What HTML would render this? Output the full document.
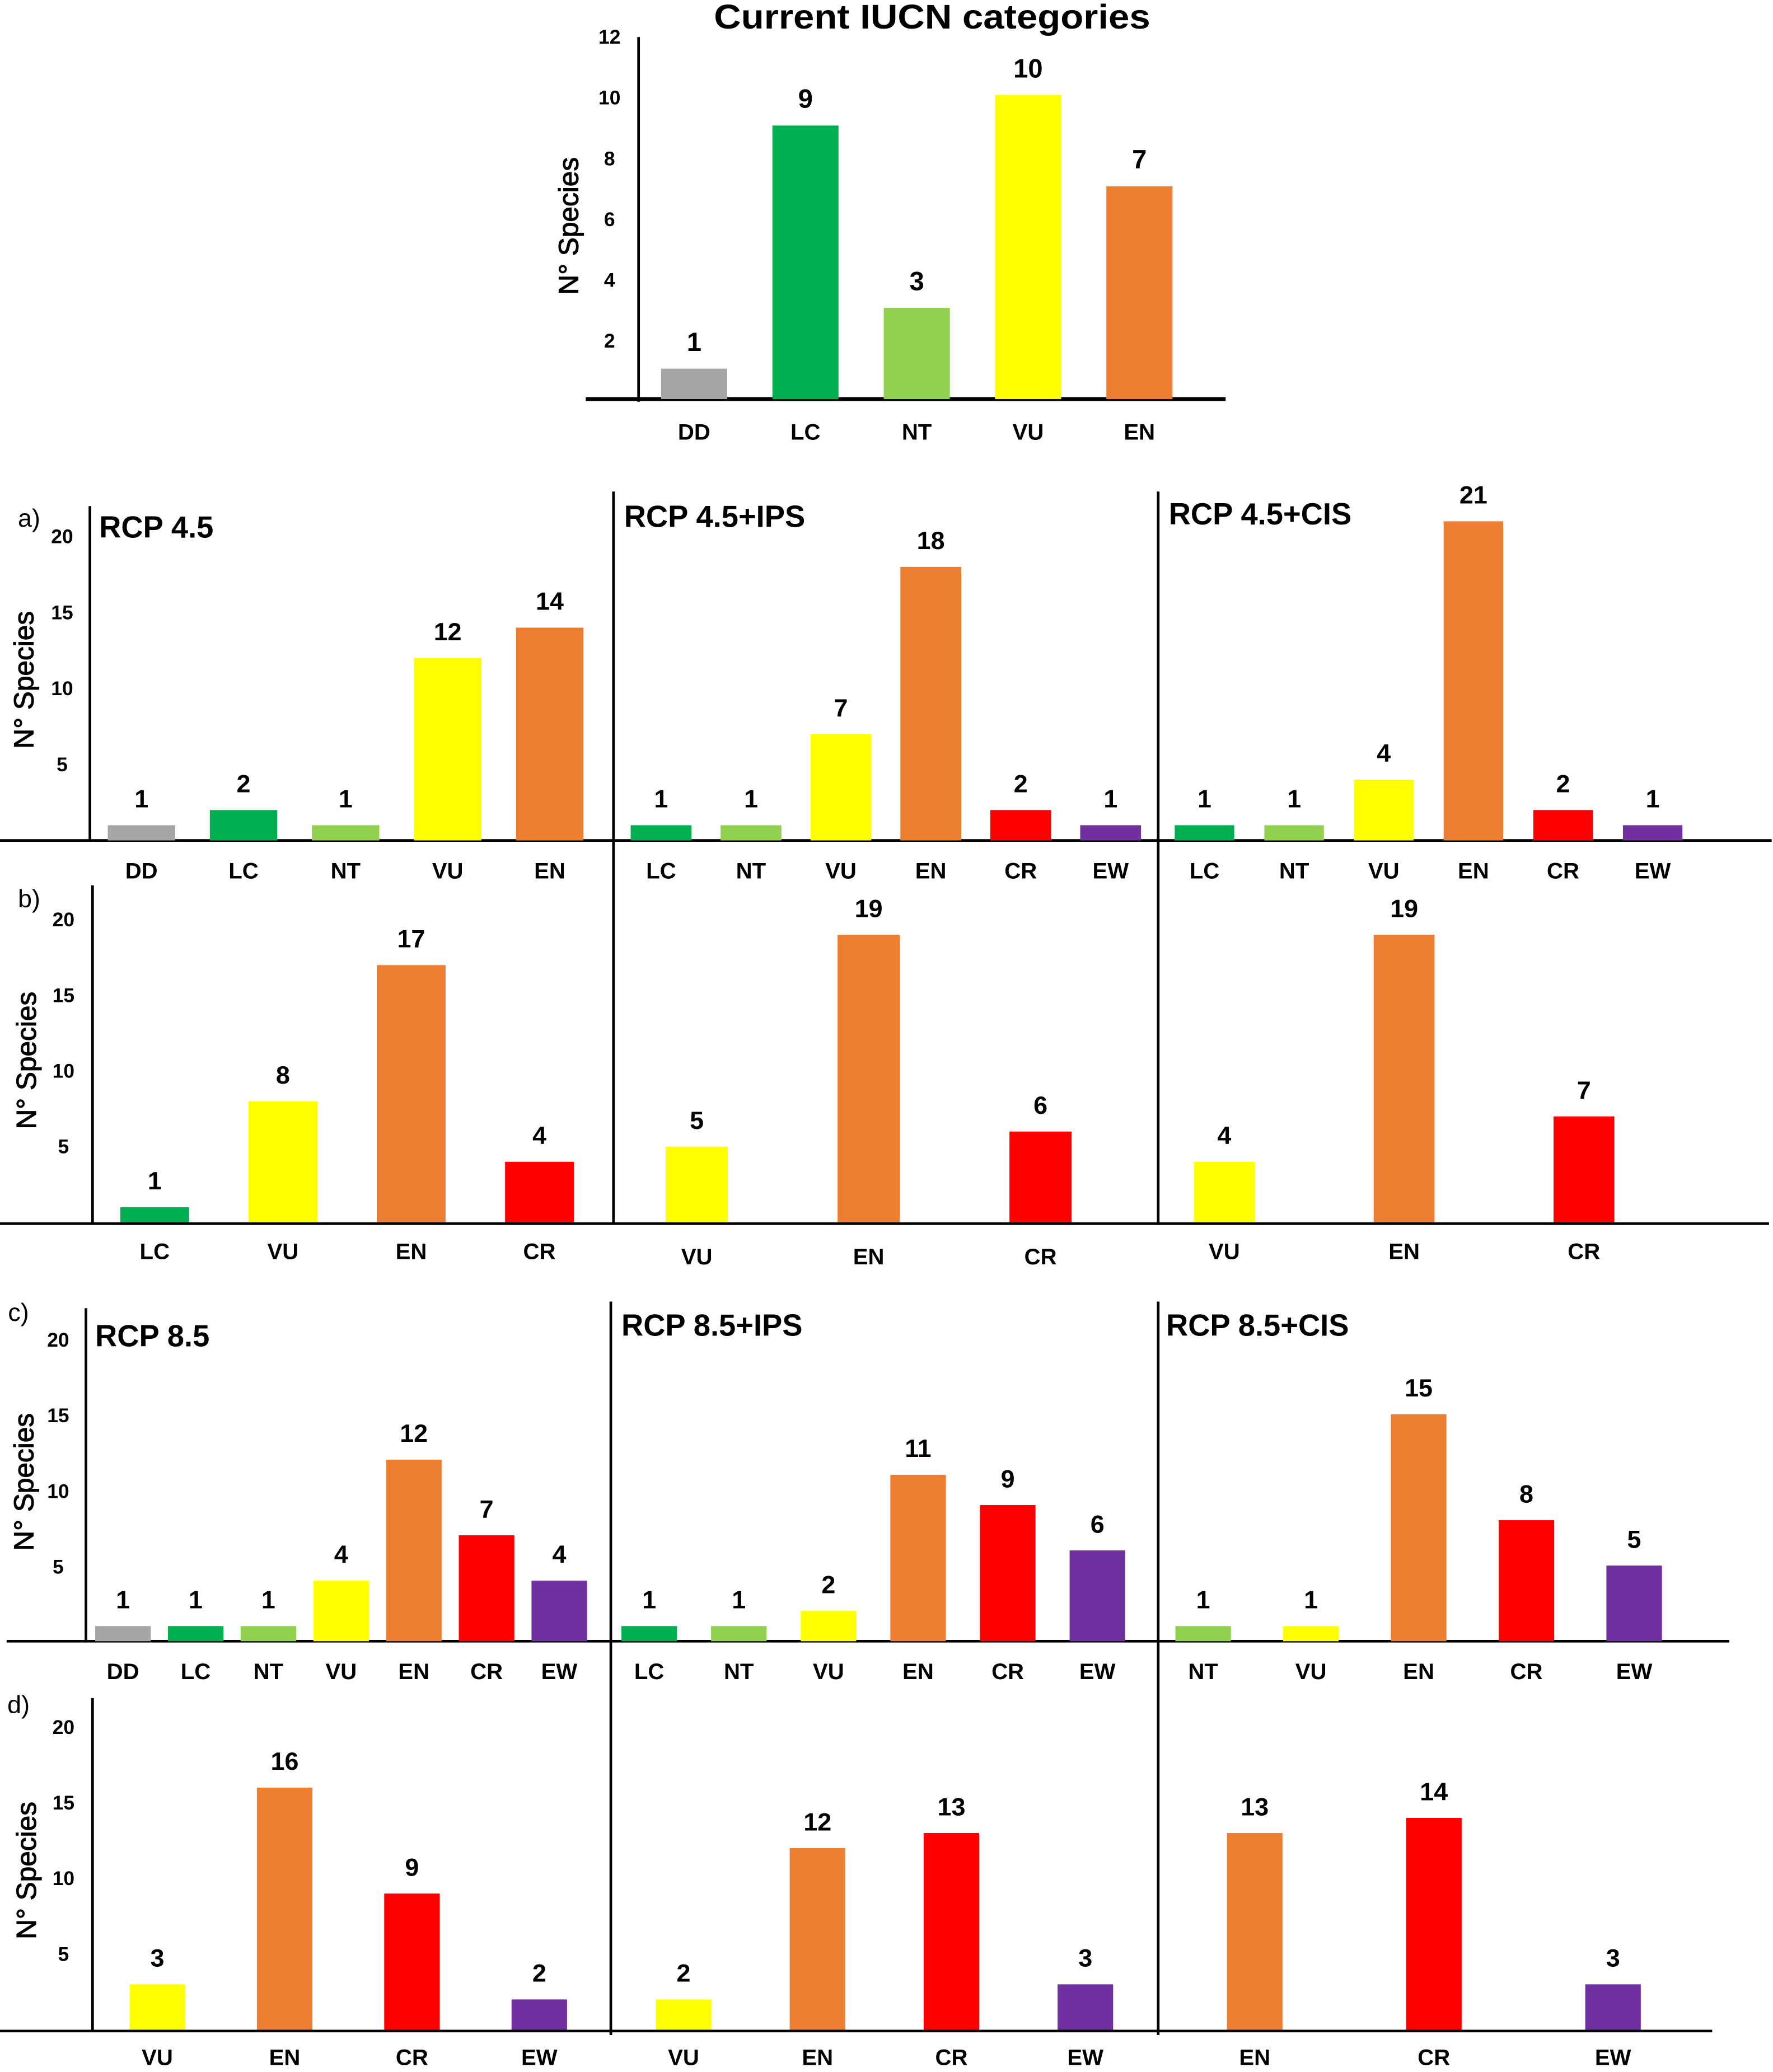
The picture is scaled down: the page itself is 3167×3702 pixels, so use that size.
<!DOCTYPE html>
<html><head><meta charset="utf-8"><style>
html,body{margin:0;padding:0;background:#fff;}
svg{display:block;font-family:"Liberation Sans",Arial,sans-serif;font-weight:bold;}
</style></head><body>
<svg id="fig" width="3167" height="3702" viewBox="0 0 1341 1568" preserveAspectRatio="none" xmlns="http://www.w3.org/2000/svg"></svg>
<script>
// ---- data ----
const topCats = ["DD","LC","NT","VU","EN"];
const topVals = [1,9,3,10,7];
const topTicks = [2,4,6,8,10,12];

const a1Cats = ["DD","LC","NT","VU","EN"];       const a1Vals = [1,2,1,12,14];
const a2Cats = ["LC","NT","VU","EN","CR","EW"];  const a2Vals = [1,1,7,18,2,1];
const a3Cats = ["LC","NT","VU","EN","CR","EW"];  const a3Vals = [1,1,4,21,2,1];
const b1Cats = ["LC","VU","EN","CR"];            const b1Vals = [1,8,17,4];
const b2Cats = ["VU","EN","CR"];                 const b2Vals = [5,19,6];
const b3Cats = ["VU","EN","CR"];                 const b3Vals = [4,19,7];
const c1Cats = ["DD","LC","NT","VU","EN","CR","EW"]; const c1Vals = [1,1,1,4,12,7,4];
const c2Cats = ["LC","NT","VU","EN","CR","EW"];  const c2Vals = [1,1,2,11,9,6];
const c3Cats = ["NT","VU","EN","CR","EW"];       const c3Vals = [1,1,15,8,5];
const d1Cats = ["VU","EN","CR","EW"];            const d1Vals = [3,16,9,2];
const d2Cats = ["VU","EN","CR","EW"];            const d2Vals = [2,12,13,3];
const d3Cats = ["EN","CR","EW"];                 const d3Vals = [13,14,3];
const rowTicks = [5,10,15,20];

const colors = {DD:"#a6a6a6",LC:"#00b050",NT:"#92d050",VU:"#ffff00",EN:"#ed7d31",CR:"#ff0000",EW:"#7030a0"};
const NS = "http://www.w3.org/2000/svg";
const svg = document.getElementById('fig');

function mk(tag, attrs, parent){
  const e = document.createElementNS(NS, tag);
  for (const k in attrs) e.setAttribute(k, attrs[k]);
  (parent||svg).appendChild(e);
  return e;
}
function txt(x,y,s,size,name,extra){
  const t = mk('text', Object.assign({x:x,y:y,'font-size':size,'text-anchor':'middle','dominant-baseline':'central'}, extra||{}));
  t.textContent = s;
  
  
  return t;
}
function line(x1,y1,x2,y2,w,name){
  const l = mk('line',{x1:x1,y1:y1,x2:x2,y2:y2,stroke:'#000','stroke-width':w});
  
  
  return l;
}
function panel(cats, vals, x0, step, bw, y0, unit, labelY, name, fs){
  const g = mk('g',{});
  
  
  const yS = v => y0 - v*unit;
  const xS = i => x0 + i*step;
  cats.forEach((c,i)=>{
    const r = mk('rect',{x:xS(i)-bw/2,y:yS(vals[i]),width:bw,height:vals[i]*unit,fill:colors[c]},g);
    
    
    const v = txt(xS(i), yS(vals[i])-20, String(vals[i]), fs||19, name+'-value-'+c.toLowerCase());
    g.appendChild(v);
    const l = txt(xS(i), labelY, c, 17, name+'-label-'+c.toLowerCase());
    g.appendChild(l);
  });
}
function yAxis(x, y0, unit, ticks, tickX, top, name, titleX){
  line(x, top, x, y0, 2, name+'-axis');
  ticks.forEach(t=>{ txt(tickX, y0 - t*unit, String(t), 15, name+'-tick-'+t); });
  const cy = (top+y0)/2 + 5;
  txt(titleX, cy, 'N° Species', 21, name+'-y-title', {transform:'rotate(-90 '+titleX+' '+cy+')', 'font-weight':'normal', 'stroke':'#000','stroke-width':'0.5'});
}

// ---- top chart ----
txt(705, 13, 'Current IUCN categories', 26, 'top-title', {textLength:330, lengthAdjust:'spacingAndGlyphs'});
yAxis(483, 304, 23, topTicks, 461, 28, 'top', 430);
line(443, 302, 927, 302, 3, 'top-x-axis');
panel(topCats, topVals, 525, 84.2, 50, 302, 23, 327, 'current', 20);

// ---- row a ----
line(0, 636, 1340, 636, 2, 'row-a-baseline');
line(464, 372, 464, 927, 2, 'divider-1');
line(876, 372, 876, 927, 2, 'divider-2');
yAxis(68, 636, 11.5, rowTicks, 47, 383, 'row-a', 18);
txt(22, 392, 'a)', 19, 'label-a', {'font-weight':'normal'});
txt(75, 399, 'RCP 4.5', 23, 'title-rcp45', {'text-anchor':'start'});
txt(472, 391, 'RCP 4.5+IPS', 23, 'title-rcp45-ips', {'text-anchor':'start'});
txt(884, 389, 'RCP 4.5+CIS', 23, 'title-rcp45-cis', {'text-anchor':'start'});
panel(a1Cats, a1Vals, 107, 77.2, 51, 636, 11.5, 659, 'a-rcp45');
panel(a2Cats, a2Vals, 500, 68, 46, 636, 11.5, 659, 'a-rcp45-ips');
panel(a3Cats, a3Vals, 911, 67.8, 45, 636, 11.5, 659, 'a-rcp45-cis');

// ---- row b ----
line(0, 926, 1338, 926, 2, 'row-b-baseline');
yAxis(70, 925, 11.45, rowTicks, 48, 670, 'row-b', 20);
txt(22, 680, 'b)', 19, 'label-b', {'font-weight':'normal'});
panel(b1Cats, b1Vals, 117, 97, 52, 925, 11.45, 947, 'b-rcp45');
panel(b2Cats, b2Vals, 527, 130, 47, 925, 11.45, 951, 'b-rcp45-ips');
panel(b3Cats, b3Vals, 926, 136, 46, 925, 11.45, 947, 'b-rcp45-cis');

// ---- row c ----
line(5, 1242, 1308, 1242, 2, 'row-c-baseline');
line(462, 985, 462, 1540, 2, 'divider-3');
line(876, 985, 876, 1540, 2, 'divider-4');
yAxis(65, 1243, 11.45, rowTicks, 44, 990, 'row-c', 18);
txt(14, 993, 'c)', 19, 'label-c', {'font-weight':'normal'});
txt(72, 1011, 'RCP 8.5', 23, 'title-rcp85', {'text-anchor':'start'});
txt(470, 1003, 'RCP 8.5+IPS', 23, 'title-rcp85-ips', {'text-anchor':'start'});
txt(882, 1003, 'RCP 8.5+CIS', 23, 'title-rcp85-cis', {'text-anchor':'start'});
panel(c1Cats, c1Vals, 93, 55, 42, 1242, 11.45, 1265, 'c-rcp85');
panel(c2Cats, c2Vals, 491, 67.8, 42, 1242, 11.45, 1265, 'c-rcp85-ips');
panel(c3Cats, c3Vals, 910, 81.5, 42, 1242, 11.45, 1265, 'c-rcp85-cis');

// ---- row d ----
line(0, 1537, 1295, 1537, 2, 'row-d-baseline');
yAxis(70, 1536, 11.45, rowTicks, 48, 1285, 'row-d', 20);
txt(14, 1290, 'd)', 19, 'label-d', {'font-weight':'normal'});
panel(d1Cats, d1Vals, 119, 96.3, 42, 1536, 11.45, 1557, 'd-rcp85');
panel(d2Cats, d2Vals, 517, 101.3, 42, 1536, 11.45, 1557, 'd-rcp85-ips');
panel(d3Cats, d3Vals, 949, 135.5, 42, 1536, 11.45, 1557, 'd-rcp85-cis');
</script>
</body></html>
